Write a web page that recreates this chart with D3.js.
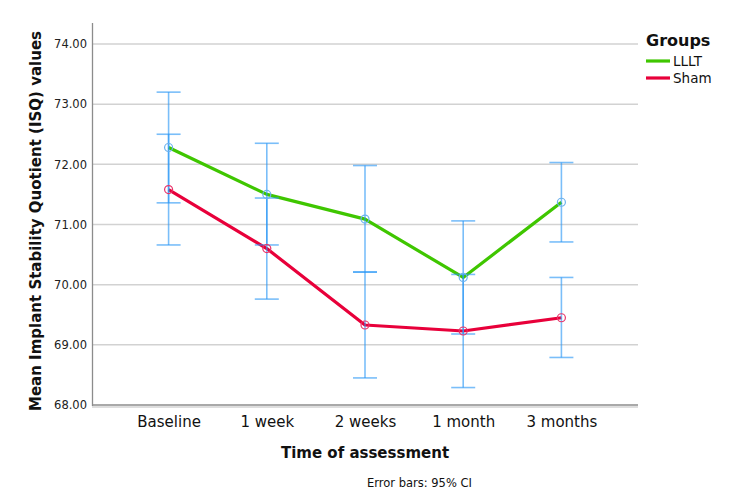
<!DOCTYPE html>
<html><head><meta charset="utf-8">
<script src="https://cdn.jsdelivr.net/npm/d3@7"></script>
<style>body{margin:0;background:#fff}svg{display:block}text{font-family:"DejaVu Sans",sans-serif}</style>
</head><body><svg id="c" width="750" height="496"></svg>
<script>
const categories = ["Baseline","1 week","2 weeks","1 month","3 months"];
const groups = ["LLLT","Sham"];
const llltMean = [72.28, 71.50, 71.09, 70.12, 71.37];
const llltLow  = [71.36, 70.66, 70.21, 69.18, 70.71];
const llltHigh = [73.20, 72.35, 71.98, 71.06, 72.03];
const shamMean = [71.58, 70.60, 69.33, 69.23, 69.45];
const shamLow  = [70.66, 69.76, 68.45, 68.29, 68.79];
const shamHigh = [72.50, 71.44, 70.21, 70.17, 70.12];
const yTicks = [68,69,70,71,72,73,74];
const colors = {LLLT:"#3fc600", Sham:"#e8003a"};
const markerColors = {LLLT:"#6cb2ee", Sham:"#e8336a"};

const series = [
  {name:"LLLT", mean:llltMean, low:llltLow, high:llltHigh},
  {name:"Sham", mean:shamMean, low:shamLow, high:shamHigh}
];

const svg = d3.select("#c");
const L=92, R=638, T=23, B=405;
const x = d3.scalePoint().domain(categories).range([L,R]).padding(0.78);
const y = d3.scaleLinear().domain([68,74]).range([B,44]);

// gridlines
svg.append("g").selectAll("line").data(yTicks.slice(1)).join("line")
  .attr("x1",L).attr("x2",R).attr("y1",d=>y(d)).attr("y2",d=>y(d))
  .attr("stroke","#d2d2d2").attr("stroke-width",1.5);

// y axis
const ya = svg.append("g").attr("transform",`translate(${L},0)`)
  .call(d3.axisLeft(y).tickValues(yTicks).tickFormat(d3.format(".2f")).tickSize(0).tickPadding(5));
ya.select(".domain").remove();
ya.selectAll("text").attr("font-size",11.5).attr("fill","#222").attr("font-family","DejaVu Sans");
svg.append("line").attr("x1",L+0.5).attr("x2",L+0.5).attr("y1",T).attr("y2",B+1)
  .attr("stroke","#8c8c8c").attr("stroke-width",1.3);

// x axis
const xa = svg.append("g").attr("transform",`translate(0,${B})`)
  .call(d3.axisBottom(x).tickSize(0).tickPadding(11));
xa.select(".domain").remove();
xa.selectAll("text").attr("font-size",15).attr("fill","#111").attr("font-family","DejaVu Sans");
svg.append("line").attr("x1",L).attr("x2",R).attr("y1",B).attr("y2",B)
  .attr("stroke","#8c8c8c").attr("stroke-width",1.3);
svg.append("line").attr("x1",L).attr("x2",R).attr("y1",B+2).attr("y2",B+2)
  .attr("stroke","#bdbdbd").attr("stroke-width",1);

// lines
const line = d3.line().x((d,i)=>x(categories[i])).y(d=>y(d));
series.forEach(s=>{
  svg.append("path").datum(s.mean).attr("d",line).attr("fill","none")
    .attr("stroke",colors[s.name]).attr("stroke-width",3.2).attr("stroke-linejoin","round");
});

// error bars
const eb = svg.append("g").attr("stroke","rgba(40,150,245,0.62)").attr("stroke-width",1.6);
series.forEach(s=>{
  categories.forEach((c,i)=>{
    const cx=x(c);
    eb.append("line").attr("x1",cx).attr("x2",cx).attr("y1",y(s.low[i])).attr("y2",y(s.high[i]));
    eb.append("line").attr("x1",cx-12).attr("x2",cx+12).attr("y1",y(s.low[i])).attr("y2",y(s.low[i]));
    eb.append("line").attr("x1",cx-12).attr("x2",cx+12).attr("y1",y(s.high[i])).attr("y2",y(s.high[i]));
  });
});

// markers
series.forEach(s=>{
  svg.append("g").selectAll("circle").data(s.mean).join("circle")
    .attr("cx",(d,i)=>x(categories[i])).attr("cy",d=>y(d)).attr("r",4)
    .attr("fill","none").attr("stroke",markerColors[s.name]).attr("stroke-width",1.2);
});

// axis titles
svg.append("text").attr("transform","translate(41,221) rotate(-90)").attr("text-anchor","middle")
  .attr("font-size",15).attr("font-weight","bold").attr("fill","#111")
  .text("Mean Implant Stability Quotient (ISQ) values");
svg.append("text").attr("x",365).attr("y",458).attr("text-anchor","middle")
  .attr("font-size",15).attr("font-weight","bold").attr("fill","#111").text("Time of assessment");
svg.append("text").attr("x",367).attr("y",487)
  .attr("font-size",11.5).attr("fill","#111").text("Error bars: 95% CI");

// legend
svg.append("text").attr("x",646).attr("y",46).attr("font-size",16).attr("font-weight","bold")
  .attr("fill","#111").text("Groups");
groups.forEach((g,i)=>{
  const yy=61+i*17;
  svg.append("line").attr("x1",646).attr("x2",670).attr("y1",yy).attr("y2",yy)
    .attr("stroke",colors[g]).attr("stroke-width",3.2);
  svg.append("text").attr("x",673).attr("y",yy+5).attr("font-size",13.5).attr("fill","#111").text(g);
});
</script></body></html>
